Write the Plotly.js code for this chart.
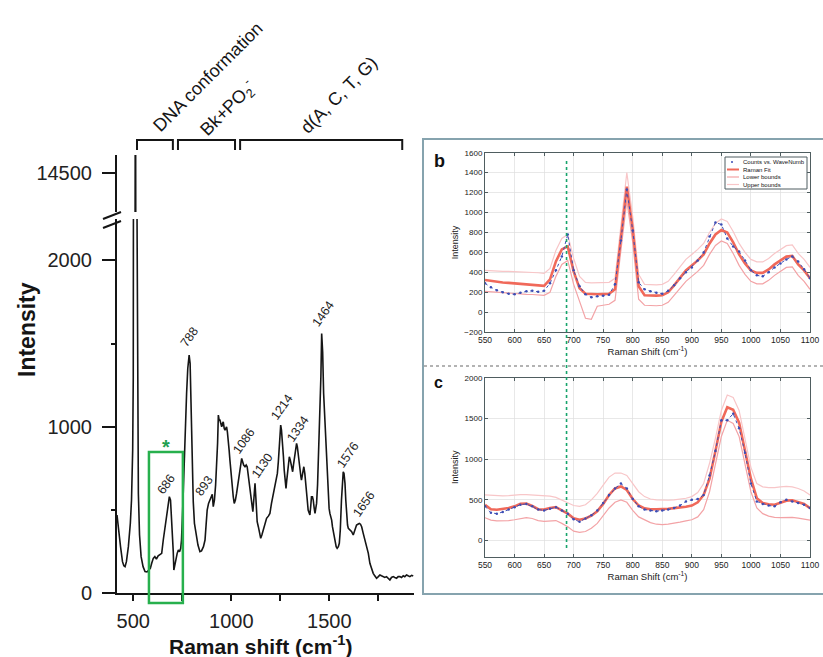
<!DOCTYPE html>
<html><head><meta charset="utf-8">
<script src="https://cdn.plot.ly/plotly-3.0.1.min.js"></script>
<style>html,body{margin:0;padding:0;background:#fff}#chart{width:823px;height:657px}</style>
</head><body><div id="chart"></div>
<script>
// ---------- main Raman spectrum ----------
const ramanShift=[417,425,435,445,452,458,465,475,485,491,497,500,503,509,511,513,519,522,526,532,540,550,560,570,580,587,594,602,610,618,627,636,645,653,661,670,677,684,690,696,700,704,707,712,718,724,730,736,742,746,752,758,765,772,778,785,790,795,800,806,812,818,823,830,840,848,858,866,872,877,884,891,898,903,908,914,920,925,930,934,938,942,947,951,955,959,964,968,972,976,980,985,989,993,998,1005,1010,1015,1021,1027,1034,1040,1046,1053,1058,1063,1070,1076,1081,1087,1095,1100,1104,1110,1116,1121,1126,1132,1138,1144,1150,1156,1163,1170,1180,1190,1197,1205,1211,1217,1223,1229,1235,1240,1245,1249,1252,1256,1262,1266,1270,1275,1279,1283,1287,1292,1296,1301,1307,1313,1317,1321,1327,1333,1337,1342,1346,1350,1355,1358,1364,1370,1375,1381,1386,1392,1396,1401,1405,1409,1414,1418,1423,1427,1431,1435,1440,1443,1448,1452,1457,1461,1466,1471,1477,1482,1486,1490,1494,1499,1503,1508,1512,1516,1520,1525,1529,1535,1540,1546,1551,1556,1562,1567,1571,1575,1580,1584,1588,1593,1597,1605,1614,1622,1631,1639,1646,1653,1659,1665,1673,1682,1690,1699,1707,1716,1724,1732,1741,1750,1758,1766,1775,1783,1792,1800,1809,1817,1826,1834,1843,1851,1860,1868,1877,1885,1894,1902,1911,1920,1928];
const intensity=[470,400,280,190,165,160,190,280,420,560,860,1300,2300,14000,15500,14000,2300,1200,600,350,220,160,130,128,140,150,180,210,220,205,225,230,240,320,390,460,530,580,560,450,360,250,140,170,220,240,260,250,270,320,500,750,1000,1200,1350,1430,1380,1100,800,550,420,370,320,290,250,255,280,320,420,500,540,560,590,595,520,560,650,760,900,1070,1040,1040,1010,1000,1020,1030,990,980,990,1000,970,920,860,800,720,640,580,540,560,600,650,700,760,810,790,770,760,770,760,700,620,560,520,490,580,660,560,430,400,350,330,350,380,410,450,465,480,540,580,610,640,680,720,790,860,960,1010,980,900,820,740,680,630,680,720,790,820,800,760,730,770,800,850,900,880,820,770,740,700,680,720,760,720,660,580,500,480,470,520,580,580,560,510,480,510,540,650,760,900,1040,1300,1560,1450,1200,1040,880,760,650,560,510,480,460,440,400,370,330,300,280,270,280,300,380,560,680,730,720,660,560,460,410,390,380,370,350,380,410,415,420,415,400,360,320,280,240,180,140,120,105,90,100,110,105,100,95,100,90,80,95,100,95,90,100,100,95,105,100,110,105,100,108,104];

const peakLabels=['686','788','893','1086','1130','1214','1334','1464','1576','1656'];
const peakLabelX=[670,787,862,1065,1157,1259,1340,1468,1595,1677];
const peakLabelY=[655,1540,644,915,765,1119,987,1680,831,536];

const regionLabels=['DNA conformation','Bk+PO<sub>2</sub><sup>-</sup>','d(A, C, T, G)'];
const regionStart=[519,728,1045];
const regionEnd=[702,1019,1872];

// ---------- panels b and c (fits) ----------
const fitShift=[550,560,570,580,590,600,610,620,630,640,650,660,670,680,690,700,710,720,730,740,750,760,770,780,790,800,810,820,830,840,850,860,870,880,890,900,910,920,930,940,950,960,970,980,990,1000,1010,1020,1030,1040,1050,1060,1070,1080,1090,1100];
const countsB=[290,250,220,200,185,180,195,210,215,205,215,290,420,560,780,420,260,180,150,160,165,175,280,720,1230,820,300,230,210,195,185,215,270,340,400,450,520,600,760,900,880,740,660,610,520,420,370,360,400,450,490,530,560,510,430,340];
const fitB=[324,315,305,298,295,290,284,280,275,270,265,330,510,630,660,410,240,185,180,180,182,185,230,760,1260,830,260,170,167,167,170,200,270,340,420,470,520,580,690,780,825,800,700,580,490,420,395,395,430,480,520,558,565,480,420,340];
const lowerB=[210,205,200,195,192,190,185,180,178,175,170,200,360,480,520,280,100,-60,-70,60,70,80,120,600,1120,700,130,70,65,65,70,100,170,240,310,360,410,470,580,670,715,690,590,470,380,310,285,285,320,370,410,450,455,370,310,230];
const upperB=[420,415,412,410,410,408,405,400,398,396,390,440,620,740,780,540,360,300,295,295,298,300,340,880,1400,960,380,280,275,275,280,310,380,450,530,580,630,690,800,890,935,910,810,690,600,530,505,505,540,590,630,668,675,590,530,450];

const countsC=[420,340,330,350,380,410,440,450,420,380,370,390,410,370,330,260,230,270,310,370,460,560,640,700,640,510,420,380,370,360,370,380,400,430,480,500,510,560,800,1100,1480,1480,1560,1380,1080,700,480,450,430,420,470,500,480,460,440,400];
const fitC=[438,385,378,385,400,420,450,455,425,385,380,400,410,370,330,272,255,270,305,360,450,560,640,665,622,510,430,395,385,385,385,390,398,405,415,430,470,560,760,1100,1460,1640,1610,1450,1120,760,520,460,445,440,465,490,495,470,450,397];
const lowerC=[280,250,240,240,245,255,270,280,270,245,235,240,245,210,170,115,100,110,150,210,300,400,470,500,470,370,290,250,220,200,195,200,210,225,240,255,290,380,600,930,1280,1480,1440,1280,950,600,400,330,300,285,280,280,285,275,265,250];
const upperC=[560,555,550,548,552,560,565,565,560,555,550,545,530,500,460,430,420,440,500,580,680,780,830,830,800,700,600,540,510,500,495,495,500,510,520,540,590,700,950,1260,1600,1790,1760,1600,1260,900,700,660,650,650,660,665,660,640,610,560];
const markerShift=[688];

const legendNames=['Counts vs. WaveNumb','Raman Fit','Lower bounds','Upper bounds'];

// ---------- layout helpers ----------
const W=823,H=657;
const px=v=>v/W, py=v=>1-v/H;
const FONT='Liberation Sans, Arial, Helvetica, sans-serif';
const C_FIT='#f0695a', C_LOW='#f3a3a6', C_UP='#f8c6c8', C_CNT='#3b4db5';

const traces=[];
// main spectrum on the lower axis
traces.push({x:ramanShift,y:intensity,xaxis:'x',yaxis:'y',type:'scatter',mode:'lines',line:{color:'#151515',width:1.6},hoverinfo:'skip'});
// the same spectrum's tall peak on the upper (broken) axis segment
const topIdx=intensity.map((v,i)=>i).filter(i=>intensity[i]>=12000);
traces.push({x:topIdx.map(i=>ramanShift[i]),y:topIdx.map(i=>intensity[i]),xaxis:'x',yaxis:'y2',type:'scatter',mode:'lines',line:{color:'#151515',width:1.6},hoverinfo:'skip'});

function panel(xa,ya,cnt,fit,lo,up){
  traces.push({x:fitShift,y:up,xaxis:xa,yaxis:ya,type:'scatter',mode:'lines',name:legendNames[3],line:{color:C_UP,width:1.2}});
  traces.push({x:fitShift,y:lo,xaxis:xa,yaxis:ya,type:'scatter',mode:'lines',name:legendNames[2],line:{color:C_LOW,width:1.2}});
  traces.push({x:fitShift,y:fit,xaxis:xa,yaxis:ya,type:'scatter',mode:'lines',name:legendNames[1],line:{color:C_FIT,width:2.6}});
  traces.push({x:fitShift,y:cnt,xaxis:xa,yaxis:ya,type:'scatter',mode:'lines+markers',name:legendNames[0],line:{color:C_CNT,width:1,dash:'dot'},marker:{color:C_CNT,size:2.5}});
}
panel('x2','y3',countsB,fitB,lowerB,upperB);
panel('x3','y4',countsC,fitC,lowerC,upperC);

const panelX={showline:true,linecolor:'#4f5d60',linewidth:1,mirror:'allticks',ticks:'inside',ticklen:3,tickcolor:'#4f5d60',
  showgrid:true,gridcolor:'#dedede',gridwidth:0.7,zeroline:false,range:[550,1100],tickmode:'linear',tick0:550,dtick:50,
  tickfont:{size:8.5,color:'#222',family:FONT},
  title:{text:'Raman Shift (cm<sup>-1</sup>)',font:{size:9.5,color:'#222',family:FONT},standoff:3}};
const panelY={showline:true,linecolor:'#4f5d60',linewidth:1,mirror:'allticks',ticks:'inside',ticklen:3,tickcolor:'#4f5d60',
  showgrid:true,gridcolor:'#dedede',gridwidth:0.7,zeroline:false,tickfont:{size:8,color:'#222',family:FONT},
  title:{text:'Intensity',font:{size:9,color:'#222',family:FONT},standoff:4}};

const shapes=[];
// axis break marks
shapes.push({type:'line',xref:'paper',yref:'paper',x0:px(103),y0:py(219),x1:px(121),y1:py(212),line:{color:'#151515',width:2}});
shapes.push({type:'line',xref:'paper',yref:'paper',x0:px(103),y0:py(228),x1:px(121),y1:py(221),line:{color:'#151515',width:2}});
// region brackets
regionStart.forEach((s,i)=>{
  const e=regionEnd[i];
  shapes.push({type:'path',xref:'x',yref:'paper',path:`M ${s},${py(150)} L ${s},${py(140)} L ${e},${py(140)} L ${e},${py(150)}`,line:{color:'#151515',width:2}});
});
// green highlight box
shapes.push({type:'rect',xref:'x',yref:'paper',x0:580,x1:753,y0:py(603),y1:py(452),line:{color:'#27b04d',width:2.5}});
// frame around b/c
shapes.push({type:'rect',xref:'paper',yref:'paper',x0:px(423),x1:px(830),y0:py(594),y1:py(139),line:{color:'#86a3ae',width:2}});
// dotted separator
shapes.push({type:'line',xref:'paper',yref:'paper',x0:px(424),x1:px(823),y0:py(366),y1:py(366),line:{color:'#9a9a9a',width:1.5,dash:'dot'}});
// vertical marker line across b and c
shapes.push({type:'line',xref:'x2',yref:'paper',x0:markerShift[0],x1:markerShift[0],y0:py(548),y1:py(159),line:{color:'#17a36b',width:1.6,dash:'dot'}});
// manual legend for panel b
shapes.push({type:'rect',xref:'paper',yref:'paper',x0:px(725),x1:px(807),y0:py(189),y1:py(157),fillcolor:'#fff',line:{color:'#4f5d60',width:1},layer:'above'});
const legY=[162,169.5,177,184.5];
const legCol=[C_CNT,C_FIT,C_LOW,C_UP];
legY.forEach((yy,i)=>{
  if(i===0){
    shapes.push({type:'circle',xref:'paper',yref:'paper',x0:px(731),x1:px(733),y0:py(yy+1),y1:py(yy-1),fillcolor:C_CNT,line:{width:0},layer:'above'});
  } else {
    shapes.push({type:'line',xref:'paper',yref:'paper',x0:px(727),x1:px(739),y0:py(yy),y1:py(yy),line:{color:legCol[i],width:i===1?2:1.2},layer:'above'});
  }
});

const ann=[];
legendNames.forEach((n,i)=>ann.push({xref:'paper',yref:'paper',x:px(741),y:py(legY[i]),xanchor:'left',yanchor:'middle',text:n,showarrow:false,font:{size:6,color:'#111',family:FONT}}));
// peak labels
peakLabels.forEach((t,i)=>ann.push({xref:'x',yref:'y',x:peakLabelX[i],y:peakLabelY[i],xanchor:'center',yanchor:'middle',text:t,showarrow:false,textangle:-55,font:{size:12.5,color:'#222',family:FONT}}));
// region labels
const regPos=[[208,77],[227,108],[339,95]];
regionLabels.forEach((t,i)=>ann.push({xref:'paper',yref:'paper',x:px(regPos[i][0]),y:py(regPos[i][1]),xanchor:'center',yanchor:'middle',text:t,showarrow:false,textangle:-45,font:{size:18,color:'#151515',family:FONT}}));
// asterisk
ann.push({xref:'x',yref:'paper',x:666,y:py(447),xanchor:'center',yanchor:'middle',text:'<b>*</b>',showarrow:false,font:{size:20,color:'#22a050',family:FONT}});
// main axis titles
ann.push({xref:'paper',yref:'paper',x:px(27),y:py(330),xanchor:'center',yanchor:'middle',text:'<b>Intensity</b>',textangle:-90,showarrow:false,font:{size:23,color:'#151515',family:FONT}});
ann.push({xref:'paper',yref:'paper',x:px(260),y:py(645),xanchor:'center',yanchor:'middle',text:'<b>Raman shift (cm<sup>-1</sup>)</b>',showarrow:false,font:{size:21,color:'#151515',family:FONT}});
// panel letters
ann.push({xref:'paper',yref:'paper',x:px(439),y:py(161),xanchor:'center',yanchor:'middle',text:'<b>b</b>',showarrow:false,font:{size:18,color:'#111',family:FONT}});
ann.push({xref:'paper',yref:'paper',x:px(438),y:py(382),xanchor:'center',yanchor:'middle',text:'<b>c</b>',showarrow:false,font:{size:16,color:'#111',family:FONT}});

const layout={
  width:W,height:H,margin:{l:0,r:0,t:0,b:0},paper_bgcolor:'#fff',plot_bgcolor:'rgba(0,0,0,0)',showlegend:false,
  font:{family:FONT,color:'#151515'},
  xaxis:{domain:[px(117),px(414)],range:[417,1932],anchor:'y',showline:true,linecolor:'#151515',linewidth:2,
    ticks:'outside',ticklen:6,tickwidth:2,tickcolor:'#151515',tickmode:'linear',tick0:0,dtick:500,
    minor:{ticks:'outside',dtick:250,tick0:0,ticklen:6,tickwidth:2,tickcolor:'#151515',showgrid:false},
    showgrid:false,zeroline:false,tickfont:{size:20,color:'#222',family:FONT},ticklabelstandoff:3},
  yaxis:{domain:[py(593.3),py(219)],range:[0,2248],anchor:'x',showline:true,linecolor:'#151515',linewidth:2,
    ticks:'outside',ticklen:13,tickwidth:2,tickcolor:'#151515',tickmode:'linear',tick0:0,dtick:1000,
    minor:{ticks:'outside',dtick:500,tick0:0,ticklen:4,tickwidth:2,tickcolor:'#151515',showgrid:false},
    showgrid:false,zeroline:false,tickfont:{size:20,color:'#222',family:FONT},ticklabelstandoff:6},
  yaxis2:{domain:[py(212),py(155)],range:[14267,14608],anchor:'x',showline:true,linecolor:'#151515',linewidth:2,
    ticks:'outside',ticklen:13,tickwidth:2,tickcolor:'#151515',tickmode:'array',tickvals:[14500],ticktext:['14500'],
    showgrid:false,zeroline:false,tickfont:{size:20,color:'#222',family:FONT},ticklabelstandoff:6},
  xaxis2:Object.assign({},panelX,{domain:[px(485),px(810)],anchor:'y3'}),
  yaxis3:Object.assign({},panelY,{domain:[py(332.2),py(152.7)],anchor:'x2',range:[-200,1600],tickmode:'linear',tick0:0,dtick:200}),
  xaxis3:Object.assign({},panelX,{domain:[px(485),px(810)],anchor:'y4'}),
  yaxis4:Object.assign({},panelY,{domain:[py(556.7),py(378)],anchor:'x3',range:[-200,2000],tickmode:'linear',tick0:0,dtick:500}),
  shapes:shapes,annotations:ann
};
Plotly.newPlot('chart',traces,layout,{staticPlot:true,displayModeBar:false});
</script></body></html>
